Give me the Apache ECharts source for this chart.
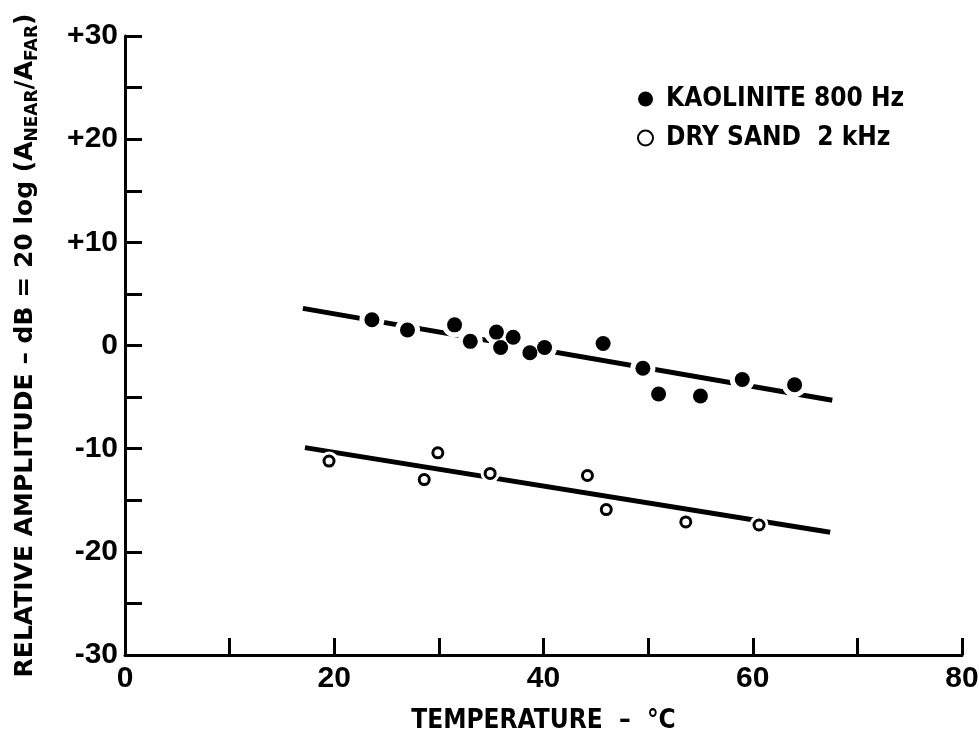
<!DOCTYPE html>
<html>
<head>
<meta charset="utf-8">
<script src="https://cdn.jsdelivr.net/npm/echarts@6/dist/echarts.min.js"></script>
<style>
html,body{margin:0;padding:0;background:#fff;}
#chart{width:979px;height:738px;}
</style>
</head>
<body>
<div id="chart"></div>
<script>
// ---- data ----
const kaoliniteName = 'KAOLINITE 800 Hz';
const sandName = 'DRY SAND  2 kHz';
const kaoliniteX = [23.6, 27.0, 31.5, 33.0, 35.5, 35.9, 37.1, 38.7, 40.1, 45.7, 49.5, 51.0, 55.0, 59.0, 64.0];
const kaoliniteY = [2.5, 1.5, 2.0, 0.4, 1.3, -0.2, 0.8, -0.7, -0.2, 0.2, -2.2, -4.7, -4.9, -3.3, -3.8];
const sandX = [19.5, 28.6, 29.9, 34.9, 44.2, 46.0, 53.6, 60.6];
const sandY = [-11.2, -13.0, -10.4, -12.4, -12.6, -15.9, -17.1, -17.4];
const kaoliniteFitX = [17.0, 67.6];
const kaoliniteFitY = [3.6, -5.3];
const sandFitX = [17.2, 67.4];
const sandFitY = [-9.9, -18.1];
const xTickLabels = ['0', '20', '40', '60', '80'];
const yTickLabels = ['-30', '-20', '-10', '0', '+10', '+20', '+30'];
const xTitle = 'TEMPERATURE  –  °C';
const yTitle = 'RELATIVE AMPLITUDE – dB = 20 log (A{sub|NEAR}/A{sub|FAR})';

const pairs = (xs, ys) => xs.map((x, i) => [x, ys[i]]);
const condFont = 'DejaVu Sans Condensed';
const wideFont = 'DejaVu Sans';
const tickFont = 'Liberation Sans';

const chart = echarts.init(document.getElementById('chart'), null, {renderer: 'canvas'});
chart.setOption({
  backgroundColor: '#fff',
  animation: false,
  grid: {left: 125, right: 17, top: 36, bottom: 83, containLabel: false, outerBoundsMode: 'none'},
  legend: {
    orient: 'vertical', left: 632, top: 81, itemWidth: 15, itemHeight: 15, itemGap: 13,
    data: [{name: kaoliniteName}, {name: sandName}],
    textStyle: {fontFamily: condFont, fontWeight: 'bold', fontSize: 26, color: '#000', padding: [0, 0, 0, 8]}
  },
  xAxis: {
    type: 'value', min: 0, max: 80, interval: 10,
    name: xTitle, nameLocation: 'middle', nameGap: 53,
    nameTextStyle: {fontFamily: condFont, fontWeight: 'bold', fontSize: 26, color: '#000'},
    axisLine: {show: true, onZero: false, lineStyle: {color: '#000', width: 3}},
    axisTick: {show: true, inside: true, length: 17, lineStyle: {color: '#000', width: 3}},
    splitLine: {show: false},
    axisLabel: {
      margin: 9, color: '#000', fontFamily: tickFont, fontWeight: 'bold', fontSize: 30,
      formatter: v => { const i = xTickLabels.indexOf(String(v)); return i >= 0 ? xTickLabels[i] : ''; }
    }
  },
  yAxis: {
    type: 'value', min: -30, max: 30, interval: 5,
    name: yTitle,
    nameLocation: 'middle', nameGap: 84,
    nameTextStyle: {
      fontFamily: wideFont, fontWeight: 'bold', fontSize: 25, color: '#000',
      rich: {sub: {fontFamily: wideFont, fontWeight: 'bold', fontSize: 17, color: '#000', padding: [14, 0, 0, 0]}}
    },
    axisLine: {show: true, onZero: false, lineStyle: {color: '#000', width: 3}},
    axisTick: {show: true, inside: true, length: 17, lineStyle: {color: '#000', width: 3}},
    splitLine: {show: false},
    axisLabel: {
      margin: 7, color: '#000', fontFamily: tickFont, fontWeight: 'bold', fontSize: 30,
      formatter: v => {
        if (v % 10 !== 0) return '';
        const idx = Math.round((v + 30) / 10);
        return yTickLabels[idx];
      }
    }
  },
  series: [
    {name: 'kfit', type: 'line', data: pairs(kaoliniteFitX, kaoliniteFitY), symbol: 'none',
     lineStyle: {color: '#000', width: 5}, silent: true, z: 2},
    {name: 'sfit', type: 'line', data: pairs(sandFitX, sandFitY), symbol: 'none',
     lineStyle: {color: '#000', width: 5}, silent: true, z: 2},
    {name: 'khalo', type: 'scatter', data: pairs(kaoliniteX, kaoliniteY), symbol: 'circle', symbolSize: 25,
     itemStyle: {color: '#fff', opacity: 1}, silent: true, z: 3},
    {name: 'shalo', type: 'scatter', data: pairs(sandX, sandY), symbol: 'circle', symbolSize: 19,
     itemStyle: {color: '#fff', opacity: 1}, silent: true, z: 3},
    {name: kaoliniteName, type: 'scatter', data: pairs(kaoliniteX, kaoliniteY), symbol: 'circle', symbolSize: 15,
     itemStyle: {color: '#000', opacity: 1}, z: 4},
    {name: sandName, type: 'scatter', data: pairs(sandX, sandY), symbol: 'circle', symbolSize: 10,
     itemStyle: {color: '#fff', borderColor: '#000', borderWidth: 3, opacity: 1}, z: 4}
  ]
});
</script>
</body>
</html>
